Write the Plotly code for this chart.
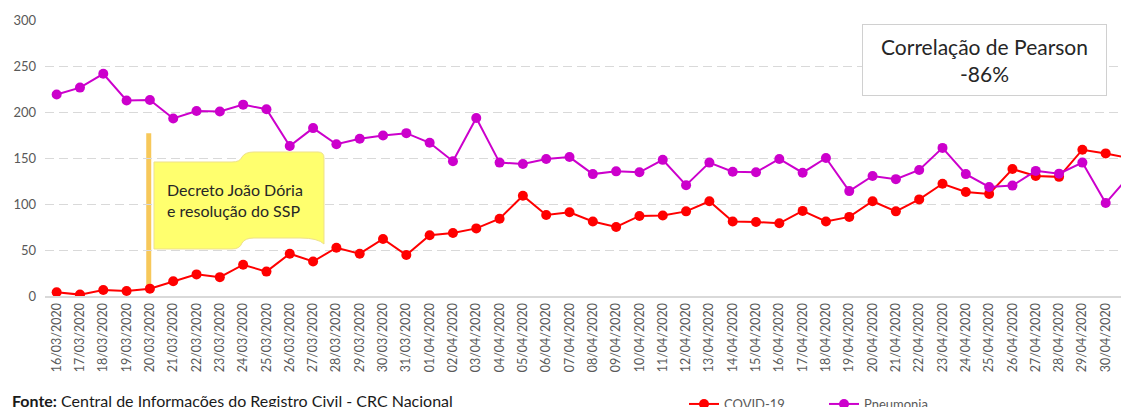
import plotly.graph_objects as go

dates = [
    "16/03/2020", "17/03/2020", "18/03/2020", "19/03/2020", "20/03/2020", "21/03/2020",
    "22/03/2020", "23/03/2020", "24/03/2020", "25/03/2020", "26/03/2020", "27/03/2020",
    "28/03/2020", "29/03/2020", "30/03/2020", "31/03/2020", "01/04/2020", "02/04/2020",
    "03/04/2020", "04/04/2020", "05/04/2020", "06/04/2020", "07/04/2020", "08/04/2020",
    "09/04/2020", "10/04/2020", "11/04/2020", "12/04/2020", "13/04/2020", "14/04/2020",
    "15/04/2020", "16/04/2020", "17/04/2020", "18/04/2020", "19/04/2020", "20/04/2020",
    "21/04/2020", "22/04/2020", "23/04/2020", "24/04/2020", "25/04/2020", "26/04/2020",
    "27/04/2020", "28/04/2020", "29/04/2020", "30/04/2020", "01/05/2020",
]

covid = [4, 1.5, 6.5, 5.5, 8, 16, 23.5, 20.5, 34, 26.5, 46, 37.5, 52.5, 46, 62, 44.5,
         66, 68.5, 73.5, 84, 109, 88, 91, 81, 75, 87, 87.5, 92, 103, 81,
         80.5, 79, 92.5, 81, 86, 103, 92, 105, 122, 113, 111, 138, 130.5, 129.5, 159, 155, 150]

pneumonia = [219, 226.5, 241.5, 212.5, 213, 193, 201, 200.5, 208, 203, 163, 182.5, 165, 171,
             174.5, 177, 166.5, 146.5, 193.5, 145, 143.5, 149, 151, 132.5, 135.5, 134.5,
             148, 120.5, 145, 135, 134.5, 149, 134, 150, 114, 130.5, 127, 137, 161,
             132.5, 118.5, 120, 136, 133, 145, 101, 130]

y_ticks = [0, 50, 100, 150, 200, 250, 300]

FONT = "Lato"
OFF = 8  # page body margin offset
W, H = 1129 - OFF, 407 - OFF
ML, MR, MT, MB = 45 - OFF, 0, 20 - OFF, 111
PW = W - ML - MR
PH = H - MT - MB


def px(x):
    """reference-window x pixel -> paper fraction"""
    return (x - OFF - ML) / PW


def py(y):
    """reference-window y pixel -> paper fraction"""
    return (H - MB - (y - OFF)) / PH


fig = go.Figure()
fig.add_trace(go.Scatter(
    x=dates, y=covid, name="COVID-19", mode="lines+markers",
    line=dict(color="#FF0000", width=2),
    marker=dict(color="#FF0000", size=10),
))
fig.add_trace(go.Scatter(
    x=dates, y=pneumonia, name="Pneumonia", mode="lines+markers",
    line=dict(color="#CC00CC", width=2),
    marker=dict(color="#CC00CC", size=10),
))

# vertical marker line at decree date
fig.add_shape(type="line", xref="x", yref="y", x0=3.95, x1=3.95, y0=7, y1=177,
              line=dict(color="#F7C85A", width=5), layer="below")

# wave flag shape (pixel coordinates converted to paper)
pts = [
    ("M", 154, 162), ("L", 232, 162), ("Q", 240, 162, 242, 157), ("Q", 245, 152, 254, 152),
    ("L", 318, 152), ("Q", 324, 152, 324, 158), ("L", 324, 244), ("Q", 318, 238, 300, 238),
    ("L", 254, 238), ("Q", 245, 238, 242, 243), ("Q", 240, 249, 232, 249), ("L", 154, 249),
]
path = ""
for p in pts:
    cmd = p[0]
    coords = p[1:]
    s = []
    for i in range(0, len(coords), 2):
        s.append(f"{px(coords[i]):.5f},{py(coords[i+1]):.5f}")
    path += cmd + " " + " ".join(s) + " "
path += "Z"
fig.add_shape(type="path", xref="paper", yref="paper", path=path,
              fillcolor="#FFFF6E", line=dict(color="#EEE08A", width=1), layer="above")

fig.add_annotation(xref="paper", yref="paper", x=px(165), y=py(200), xanchor="left",
                   yanchor="middle", showarrow=False, align="left",
                   text="Decreto João Dória<br>e resolução do SSP",
                   font=dict(family=FONT, size=16, color="#262626"))

fig.add_annotation(xref="paper", yref="paper", x=px(984.5), y=py(60), xanchor="center",
                   yanchor="middle", showarrow=False, align="center",
                   width=241, height=68, bgcolor="white", bordercolor="#D0D0D0",
                   borderwidth=1,
                   text="Correlação de Pearson<br>-86%",
                   font=dict(family=FONT, size=21, color="#262626"))

fig.add_annotation(xref="paper", yref="paper", x=px(10), y=py(400), xanchor="left",
                   yanchor="middle", showarrow=False, align="left",
                   text="<b>Fonte:</b> Central de Informações do Registro Civil - CRC Nacional",
                   font=dict(family=FONT, size=16, color="#1a1a1a"))

fig.update_layout(
    width=W, height=H,
    margin=dict(l=ML, r=MR, t=MT, b=MB, autoexpand=False),
    plot_bgcolor="white", paper_bgcolor="white",
    font=dict(family=FONT, color="#595959"),
    showlegend=True,
    legend=dict(orientation="h", x=px(684), y=py(404), xanchor="left", yanchor="middle",
                entrywidth=95, entrywidthmode="pixels",
                font=dict(family=FONT, size=13, color="#595959"), bgcolor="rgba(0,0,0,0)"),
    xaxis=dict(
        type="category", range=[-0.5, 46.0], tickangle=-90,
        tickfont=dict(family=FONT, size=12.5, color="#595959"),
        showgrid=False, showline=True, linecolor="#D9D9D9", linewidth=2,
        ticks="", automargin=False,
    ),
    yaxis=dict(
        range=[0, 300], tickvals=y_ticks,
        tickfont=dict(family=FONT, size=13, color="#595959"),
        showgrid=True, gridcolor="#D9D9D9", griddash="9px,5px", gridwidth=1,
        zeroline=False, showline=False, ticks="", ticklabelstandoff=8,
        automargin=False,
    ),
)

fig.write_html("out.html")
